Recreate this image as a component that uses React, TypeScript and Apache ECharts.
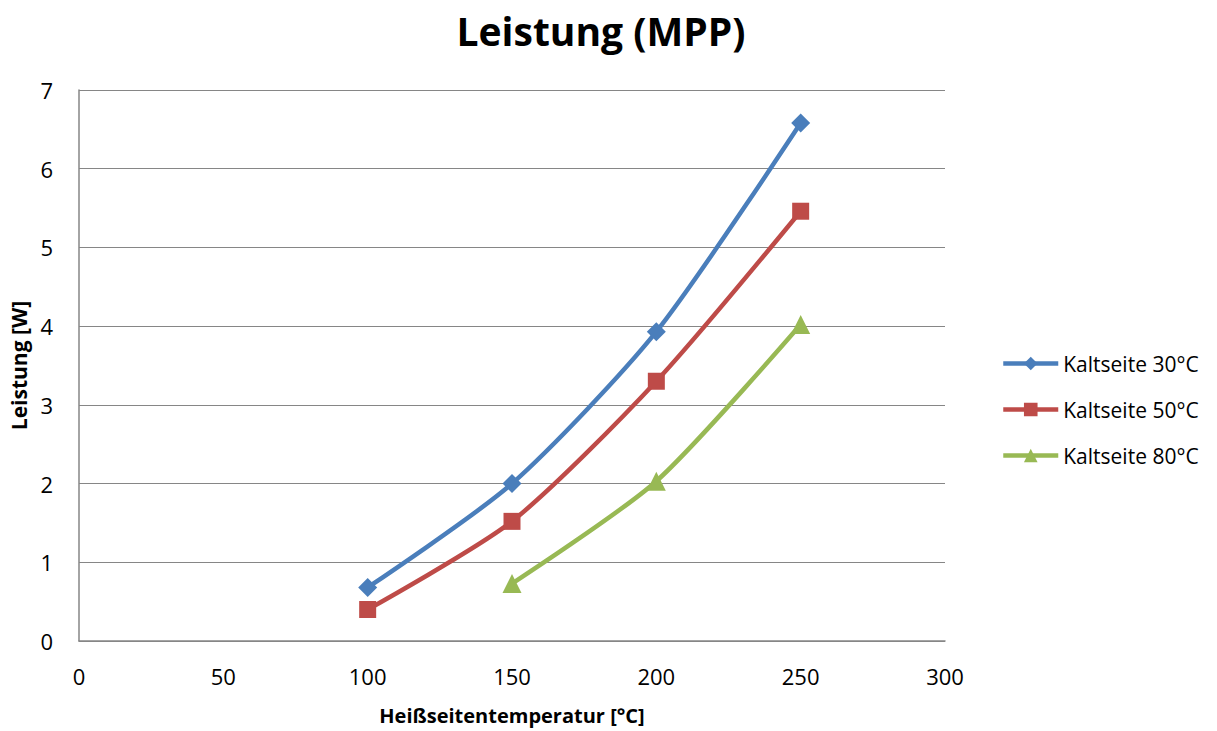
import React, { useEffect, useRef } from "react";
import * as echarts from "echarts";

const xValues = [100, 150, 200, 250];
const seriesNames = ["Kaltseite 30°C", "Kaltseite 50°C", "Kaltseite 80°C"];
const kalt30 = [0.68, 2.0, 3.93, 6.58];
const kalt50 = [0.4, 1.52, 3.3, 5.46];
const kalt80 = [null, 0.73, 2.03, 4.02];
const xTicks = [0, 50, 100, 150, 200, 250, 300];
const yTicks = [0, 1, 2, 3, 4, 5, 6, 7];

const FONT = "'Open Sans', 'Noto Sans', sans-serif";

export default function App() {
  const ref = useRef<HTMLDivElement>(null);
  useEffect(() => {
    if (!ref.current) return;
    const chart = echarts.init(ref.current, undefined, { renderer: "svg" });
    const mk = (vals: (number | null)[]) =>
      xValues.map((x, i) => [x, vals[i]]).filter((p) => p[1] !== null);
    const colors = ["#4A7EBB", "#BE4B48", "#98B954"];
    const symbols = ["diamond", "rect", "triangle"];
    const sizes = [19, 17, 19];
    const data = [kalt30, kalt50, kalt80];
    chart.setOption({
      animation: false,
      title: {
        text: "Leistung (MPP)",
        left: 596,
        textAlign: "center",
        top: 6,
        textStyle: { fontFamily: FONT, fontSize: 39, fontWeight: "bold", color: "#000" },
      },
      legend: {
        orient: "vertical",
        left: 996,
        top: 348,
        itemWidth: 55,
        itemHeight: 17,
        itemGap: 25,
        lineStyle: { width: 4.5 },
        textStyle: { fontFamily: FONT, fontSize: 21, color: "#000" },
        data: seriesNames,
      },
      grid: { left: 79, top: 90, right: 272, bottom: 90, containLabel: false, outerBoundsMode: "none" },
      xAxis: {
        type: "value",
        min: 0,
        max: 300,
        interval: 50,
        name: "Heißseitentemperatur [°C]",
        nameLocation: "middle",
        nameGap: 64,
        nameTextStyle: { fontFamily: FONT, fontSize: 20, fontWeight: "bold", color: "#000" },
        axisLine: { show: true, lineStyle: { color: "#868686", width: 1.5 } },
        axisTick: { show: false },
        axisLabel: {
          fontFamily: FONT,
          fontSize: 22,
          color: "#000",
          margin: 24,
          formatter: (v: number) => (xTicks.includes(v) ? String(v) : ""),
        },
        splitLine: { show: false },
      },
      yAxis: {
        type: "value",
        min: 0,
        max: 7,
        interval: 1,
        name: "Leistung [W]",
        nameLocation: "middle",
        nameGap: 50,
        nameTextStyle: { fontFamily: FONT, fontSize: 21, fontWeight: "bold", color: "#000" },
        axisLine: { show: true, lineStyle: { color: "#868686", width: 1.5 } },
        axisTick: { show: false },
        axisLabel: {
          fontFamily: FONT,
          fontSize: 22,
          color: "#000",
          margin: 26,
          formatter: (v: number) => (yTicks.includes(v) ? String(v) : ""),
        },
        splitLine: { show: true, lineStyle: { color: "#868686", width: 1 } },
      },
      series: seriesNames.map((name, i) => ({
        name,
        type: "line",
        smooth: 0.25,
        data: mk(data[i]),
        symbol: symbols[i],
        symbolSize: sizes[i],
        showSymbol: true,
        itemStyle: { color: colors[i] },
        lineStyle: { color: colors[i], width: 4.5 },
      })),
    });
    return () => chart.dispose();
  }, []);
  return <div ref={ref} style={{ width: 1217, height: 731, position: "absolute", left: 0, top: 0 }} />;
}
